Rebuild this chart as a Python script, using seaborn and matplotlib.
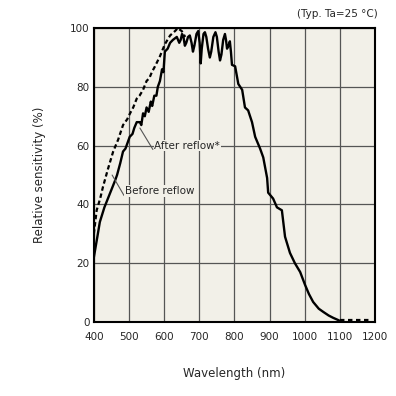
import matplotlib
matplotlib.use("Agg")
import matplotlib.pyplot as plt
import pandas as pd
import seaborn as sns

# After reflow (solid)
after_wl = [400, 410, 417, 430, 440, 450, 460, 466, 475, 483, 490, 496, 502, 510, 515, 522,
            531, 535, 540, 545, 550, 556, 562, 566, 572, 578, 582, 588, 594, 598, 602, 610,
            617, 625, 636, 643, 647, 651, 655, 659, 663, 668, 673, 678, 682, 686, 692, 697,
            701, 704, 707, 712, 716, 720, 725, 730, 734, 740, 746, 750, 755, 759, 763, 768,
            773, 776, 779, 783, 787, 790, 793, 802, 811, 822, 830, 839, 850, 859,
            873, 882, 893, 896, 910, 921, 935, 944, 958, 972, 987, 1001, 1012, 1024, 1040,
            1053, 1068, 1081, 1098]
after_val = [22, 29, 34, 39, 42, 45, 48, 50, 54, 58, 59, 61, 63, 64, 66, 68,
             68, 67, 71, 70, 73, 71.5, 75, 73.5, 77, 77, 80, 82, 86, 85, 92, 93,
             95, 96, 97, 95, 96, 98, 97, 94, 95, 97, 97.5, 95, 92, 94, 98, 99,
             95, 88, 93, 98, 98.6, 97, 93, 90, 92, 97, 98.6, 97, 92, 89, 91, 96,
             98, 96, 93, 94, 95.5, 92, 87.5, 87, 81, 79, 73, 72, 68, 63,
             59, 56, 49, 44, 42, 39, 38, 29, 23.5, 20, 17, 12.6, 9.5, 6.8, 4.5,
             3.4, 2.2, 1.4, 0.5]

# Before reflow (dashed)
before_wl = [400, 408, 418, 426, 440, 455, 469, 483, 495, 503, 512, 522, 530, 540, 550, 558,
             565, 574, 588, 602, 617, 631, 639, 650, 660]
before_val = [30, 38, 42, 46, 52, 58, 62, 67, 69, 71, 73, 76, 77, 79, 82, 83,
              85, 87, 90.4, 94.5, 97.5, 99, 100, 99, 97]
tail_wl = [1100, 1190]
tail_val = [0.5, 0.5]

x_ticks = [400, 500, 600, 700, 800, 900, 1000, 1100, 1200]
y_ticks = [0, 20, 40, 60, 80, 100]

sns.set_style("white")
plt.rcParams['font.family'] = ['DejaVu Sans']

df_after = pd.DataFrame({'wl': after_wl, 'val': after_val})
df_before = pd.DataFrame({'wl': before_wl, 'val': before_val})
df_tail = pd.DataFrame({'wl': tail_wl, 'val': tail_val})

fig = plt.figure(figsize=(3.96, 3.96), dpi=100)
ax = fig.add_axes([0.237, 0.187, 0.71, 0.742])
ax.set_facecolor('#f2f0e8')

sns.lineplot(data=df_before, x='wl', y='val', ax=ax, color='black', lw=1.6,
             linestyle=(0, (2, 1.3)), zorder=3)
sns.lineplot(data=df_tail, x='wl', y='val', ax=ax, color='black', lw=1.6,
             linestyle=(0, (2, 1.6)), zorder=3)
sns.lineplot(data=df_after, x='wl', y='val', ax=ax, color='black', lw=1.7, zorder=4)

ax.set_xlim(400, 1200)
ax.set_ylim(0, 100)
ax.set_xticks(x_ticks)
ax.set_yticks(y_ticks)
ax.grid(True, color='#555555', lw=0.9)
ax.tick_params(length=0, labelsize=7.5)
ax.tick_params(axis='x', pad=7)
ax.tick_params(axis='y', pad=3)
for s in ax.spines.values():
    s.set_color('black')
    s.set_linewidth(1.5)

ax.set_xlabel('Wavelength (nm)', fontsize=8.5, labelpad=18)
ax.set_ylabel('Relative sensitivity (%)', fontsize=8.5, labelpad=17)
fig.text(0.955, 0.965, '(Typ. Ta=25 °C)', ha='right', va='center', fontsize=7.5)

# annotations
ax.plot([568, 531], [58.7, 66], color='#555555', lw=0.8, zorder=5)
ax.text(572, 60, 'After reflow*', fontsize=7.5, va='center', ha='left', zorder=6,
        bbox=dict(facecolor='#f2f0e8', edgecolor='none', pad=0.5))
ax.plot([486, 452], [43, 50], color='#555555', lw=0.8, zorder=5)
ax.text(488, 44.5, 'Before reflow', fontsize=7.5, va='center', ha='left', zorder=6,
        bbox=dict(facecolor='#f2f0e8', edgecolor='none', pad=0.5))

fig.savefig('out.png', dpi=100)
